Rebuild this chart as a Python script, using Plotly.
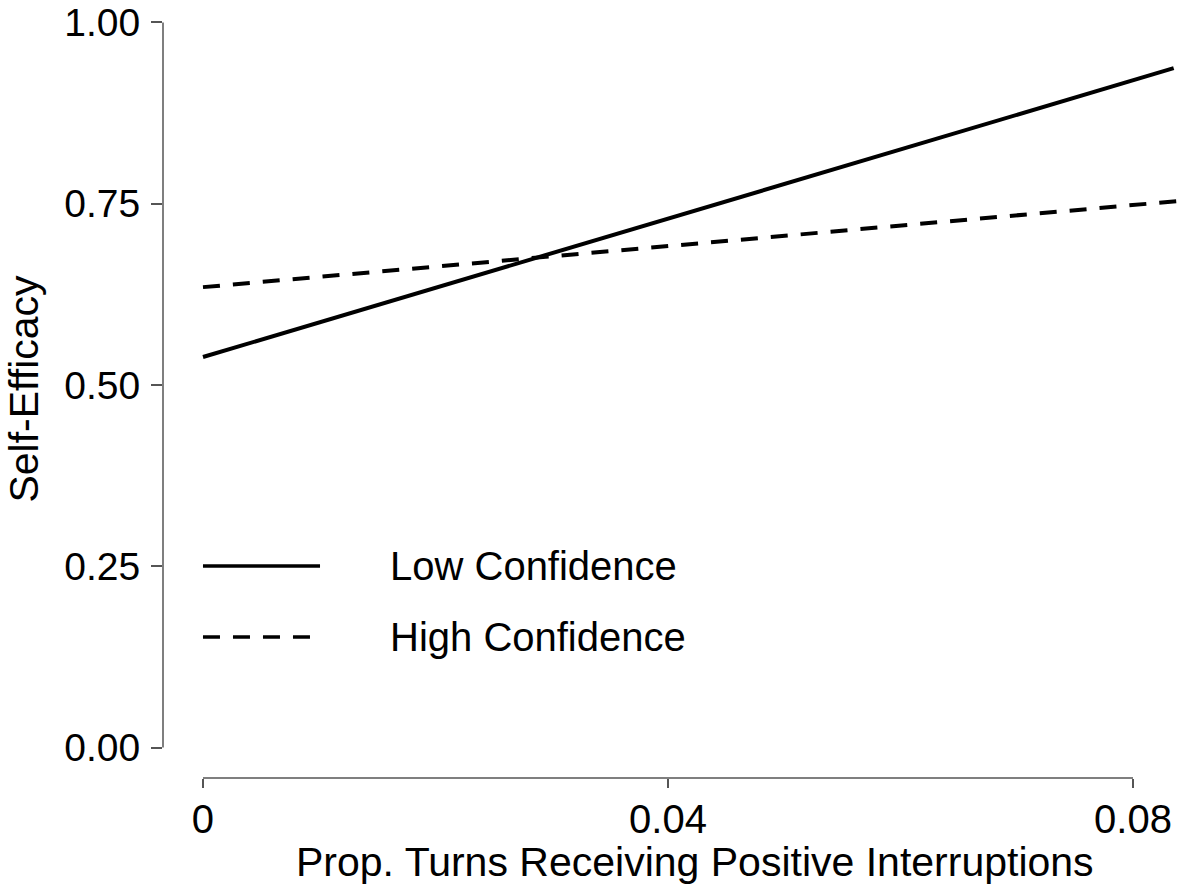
import plotly.graph_objects as go

# Predicted self-efficacy by confidence group
x_low = [0.0, 0.0835]
y_low = [0.5386, 0.937]
x_high = [0.0, 0.0848]
y_high = [0.635, 0.755]

series_names = ["Low Confidence", "High Confidence"]
x_ticks = [0, 0.04, 0.08]
x_tick_text = ["0", "0.04", "0.08"]
y_ticks = [0, 0.25, 0.5, 0.75, 1.0]
y_tick_text = ["0.00", "0.25", "0.50", "0.75", "1.00"]
x_title = "Prop. Turns Receiving Positive Interruptions"
y_title = "Self-Efficacy"

FONT = "Liberation Sans, Arial, sans-serif"
AXIS_COLOR = "#555555"

fig = go.Figure()
fig.add_trace(go.Scatter(x=x_low, y=y_low, mode="lines", name=series_names[0],
                         line=dict(color="black", width=4), showlegend=False))
fig.add_trace(go.Scatter(x=x_high, y=y_high, mode="lines", name=series_names[1],
                         line=dict(color="black", width=4, dash="17px,13px"),
                         showlegend=False))

# Base-graphics style axes: lines only span the tick range
fig.add_shape(type="line", xref="x domain", yref="y", x0=0, x1=0,
              y0=y_ticks[0], y1=y_ticks[-1], line=dict(color=AXIS_COLOR, width=1.5))
fig.add_shape(type="line", xref="x", yref="y domain", x0=x_ticks[0], x1=x_ticks[-1],
              y0=0, y1=0, line=dict(color=AXIS_COLOR, width=1.5))

# Hand-drawn legend with long line samples
legend_rows = [(0.2725, None), (0.1812, "17px,13px")]
for (ypos, dash), label in zip(legend_rows, series_names):
    fig.add_shape(type="line", xref="paper", yref="paper", x0=0.0387, x1=0.152,
                  y0=ypos, y1=ypos,
                  line=dict(color="black", width=3.5, dash=dash or "solid"))
    fig.add_annotation(xref="paper", yref="paper", x=0.2175, y=ypos, text=label,
                       showarrow=False, xanchor="left", yanchor="middle",
                       font=dict(family=FONT, size=40, color="black"))

# x-axis title, centred on the full plotting region (which runs past the right edge)
fig.add_annotation(xref="paper", yref="paper", x=0.515, y=-0.1075, text=x_title,
                   showarrow=False, xanchor="center", yanchor="middle", borderpad=0,
                   font=dict(family=FONT, size=41, color="black"))

fig.update_xaxes(range=[-0.00344, 0.08542], tickvals=x_ticks, ticktext=x_tick_text,
                 ticks="outside", ticklen=9, tickwidth=1.5, tickcolor=AXIS_COLOR,
                 showline=False, showgrid=False, zeroline=False,
                 ticklabelstandoff=-3,
                 tickfont=dict(family=FONT, size=40, color="black"))
fig.update_yaxes(range=[-0.042, 1.031], tickvals=y_ticks, ticktext=y_tick_text,
                 ticks="outside", ticklen=11, tickwidth=1.5, tickcolor=AXIS_COLOR,
                 showline=False, showgrid=False, zeroline=False,
                 ticklabelstandoff=3,
                 tickfont=dict(family=FONT, size=39, color="black"),
                 title=dict(text=y_title,
                            font=dict(family=FONT, size=41, color="black"), standoff=12))

fig.update_layout(width=1196, height=888, margin=dict(l=163, r=0, t=0, b=110),
                  plot_bgcolor="white", paper_bgcolor="white", showlegend=False)

fig.write_html("out.html")
